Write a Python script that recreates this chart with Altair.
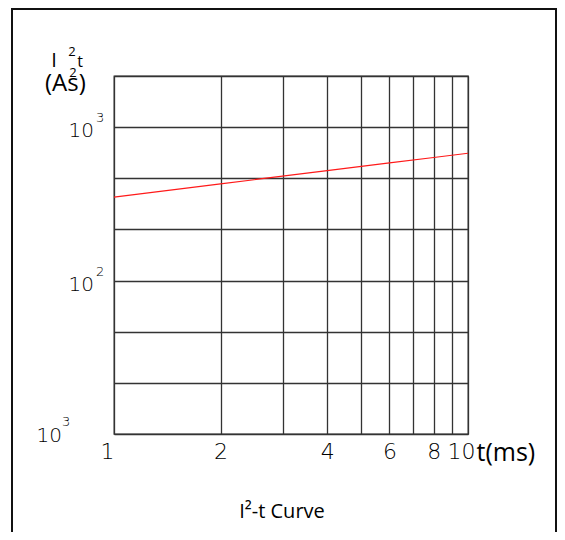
import altair as alt
import pandas as pd

# ---- data ----
t_ms = [1, 2, 4, 6, 8, 10]
i2t = [350, 427, 520, 585, 634, 676]

x_grid = [1, 2, 3, 4, 5, 6, 7, 8, 9, 10]
x_labels = [1, 2, 4, 6, 8, 10]
y_grid = [10, 21.544, 46.416, 100, 215.44, 464.16, 1000, 2154.43]
y_domain = [10, 2154.43]

ylab_vals = [1000, 100, 10]
ylab_base = ["10", "10", "10"]
ylab_exp = ["3", "2", "3"]

LABEL_FONT = "DejaVu Sans"
TEXT_FONT = "Open Sans"

curve = pd.DataFrame({"t": t_ms, "v": i2t})
ylab = pd.DataFrame({"v": ylab_vals, "base": ylab_base, "exp": ylab_exp,
                     "grp": ["top", "top", "bottom"]})
one = pd.DataFrame({"k": [0]})

x_scale = alt.Scale(type="log", domain=[1, 10], nice=False)
y_scale = alt.Scale(type="log", domain=y_domain, nice=False)

label_test = "indexof(" + str(x_labels) + ", datum.value) >= 0"

x_axis = alt.Axis(
    values=x_grid, grid=True, ticks=False, domain=False,
    labelExpr=label_test + " ? toString(datum.value) : ''",
    labelOverlap=False, labelFlush=False, labelBound=False,
    labelFont=LABEL_FONT, labelFontWeight=200, labelFontSize=22, labelColor="#000",
    labelPadding=7,
    labelOffset={"condition": {"test": "datum.value == 1 || datum.value == 10", "value": -7}, "value": 0},
    title="t(ms)", titleFont=TEXT_FONT, titleFontSize=25, titleFontWeight="normal",
    titleColor="#000", titleX=362, titleY=26, titleAlign="left", titleBaseline="alphabetic",
    titleAnchor="start",
)
y_axis = alt.Axis(values=y_grid, grid=True, ticks=False, domain=False, labels=False, title=None)

x_enc = alt.X("t:Q", scale=x_scale, axis=x_axis)
y_enc = alt.Y("v:Q", scale=y_scale, axis=y_axis)

line = alt.Chart(curve).mark_line(color="#ff1a1a", strokeWidth=1.2).encode(x=x_enc, y=y_enc)

# y tick labels (10 with superscript exponent)
base_top = alt.Chart(ylab).transform_filter("datum.grp == 'top'").mark_text(
    font=LABEL_FONT, fontWeight=200, fontSize=20, align="right", baseline="middle", dy=4, color="#000"
).encode(x=alt.value(-20), y=y_enc, text="base:N")
exp_top = alt.Chart(ylab).transform_filter("datum.grp == 'top'").mark_text(
    font=LABEL_FONT, fontWeight=200, fontSize=13, align="left", baseline="middle", dy=-9, color="#000"
).encode(x=alt.value(-18), y=y_enc, text="exp:N")
base_bot = alt.Chart(ylab).transform_filter("datum.grp == 'bottom'").mark_text(
    font=LABEL_FONT, fontWeight=200, fontSize=20, align="right", baseline="middle", dy=2, color="#000"
).encode(x=alt.value(-52), y=y_enc, text="base:N")
exp_bot = alt.Chart(ylab).transform_filter("datum.grp == 'bottom'").mark_text(
    font=LABEL_FONT, fontWeight=200, fontSize=13, align="left", baseline="middle", dy=-12, color="#000"
).encode(x=alt.value(-52), y=y_enc, text="exp:N")

# y-axis title: I 2 t / (A2s)
def txt(s, x, y, size, align="center", baseline="alphabetic"):
    return alt.Chart(one).mark_text(
        text=s, font=TEXT_FONT, fontSize=size, align=align, baseline=baseline, color="#000"
    ).encode(x=alt.value(x), y=alt.value(y))

title_parts = [
    txt("I", -60, -9, 20),
    txt("2", -42, -20, 13),
    txt("t", -34, -9, 16),
    txt("(As)", -69, 15, 24, align="left"),
    txt("2", -41, 1, 13),
    txt("I²-t Curve", 168, 442, 20),
]

frame = alt.Chart(one).mark_rect(fill=None, stroke="#111", strokeWidth=2).encode(
    x=alt.value(-102), x2=alt.value(442), y=alt.value(-67), y2=alt.value(480)
)

chart = alt.layer(
    line, base_top, exp_top, base_bot, exp_bot, *title_parts, frame
).properties(
    width=354, height=358,
    autosize=alt.AutoSizeParams(type="none"),
    padding={"left": 106, "top": 68, "right": 89, "bottom": 98},
).configure_view(
    stroke="#333", strokeWidth=1.3
).configure_axis(
    gridColor="#333", gridWidth=1.3, gridOpacity=1
)

chart.save("out.html", embed_options={"renderer": "svg", "actions": False})
